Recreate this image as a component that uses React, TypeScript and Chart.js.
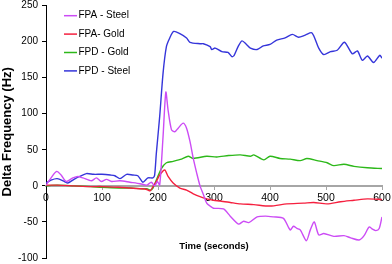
import React, { useEffect, useRef } from 'react';
import { Chart, registerables } from 'chart.js';

Chart.register(...registerables);

// ---- data ----
const seriesLabels = ['FPA - Steel', 'FPA- Gold', 'FPD - Gold', 'FPD - Steel'];
const seriesColors = ['#CC4CF5', '#F5203F', '#2DB81A', '#3535DA'];

const xTickValues = [0, 100, 200, 300, 400, 500, 600];
const yTickValues = [-100, -50, 0, 50, 100, 150, 200, 250];

const fpaSteelT = [0, 9, 19, 27, 36, 48, 57, 66, 81, 90, 99, 108, 117, 132, 150, 168, 180, 188, 194, 199, 203, 209, 214, 218, 224, 230, 236, 245, 251, 257, 263, 269, 275, 281, 287, 293, 299, 317, 329, 344, 353, 362, 377, 392, 406, 424, 436, 442, 448, 454, 465, 472, 479, 487, 496, 514, 532, 544, 559, 568, 577, 583, 589, 595, 600];
const fpaSteelV = [1, 11, 20, 15, 6, 11, 13, 11, 7, 11, 6, 9, 6, 7, 5, 3, 1, 5, 0, 6, 1, 68, 130, 105, 78, 75, 80, 87, 80, 62, 38, 18, 0, -12, -24, -28, -31, -32, -42, -53, -49, -51, -43, -42, -43, -45, -61, -56, -59, -61, -76, -61, -50, -68, -66, -70, -69, -72, -75, -69, -57, -60, -62, -59, -43];

const fpaGoldT = [0, 20, 50, 80, 100, 130, 150, 170, 180, 186, 191, 197, 203, 212, 218, 227, 239, 251, 263, 275, 287, 299, 311, 329, 347, 371, 400, 430, 460, 478, 502, 526, 550, 574, 600];
const fpaGoldV = [1, 1, 0, -1, -1, -2, -3, -4, -5, -7, -1, 6, 15, 22, 13, 4, -3, -6, -11, -15, -18, -20, -21, -23, -25, -26, -28, -25, -24, -23, -25, -22, -20, -18, -19];

const fpdGoldT = [0, 20, 50, 80, 100, 130, 150, 170, 180, 186, 191, 197, 206, 215, 227, 242, 254, 263, 287, 305, 326, 347, 365, 371, 389, 400, 418, 436, 454, 466, 484, 502, 514, 532, 550, 574, 600];
const fpdGoldV = [0, 1, 0, -1, -2, -3, -3, -4, -4, -6, -3, 8, 24, 32, 34, 37, 41, 38, 41, 40, 42, 43, 41, 43, 36, 41, 38, 37, 35, 38, 35, 32, 28, 30, 27, 25, 24];

const fpdSteelT = [0, 9, 20, 33, 39, 50, 60, 72, 85, 100, 115, 123, 132, 144, 155, 164, 173, 182, 191, 194, 197, 203, 209, 215, 221, 228, 239, 251, 257, 275, 281, 293, 296, 302, 314, 325, 332, 336, 343, 350, 358, 365, 377, 388, 400, 412, 427, 440, 451, 463, 475, 487, 496, 508, 520, 533, 547, 556, 565, 574, 585, 596, 600];
const fpdSteelV = [4, 8, 10, 6, 4, 9, 13, 17, 16, 16, 15, 14, 10, 16, 15, 14, 5, 11, 11, 15, 45, 96, 156, 193, 205, 214, 211, 205, 199, 197, 197, 193, 189, 191, 186, 185, 179, 181, 193, 201, 196, 191, 189, 194, 196, 202, 205, 210, 206, 209, 212, 191, 182, 186, 188, 199, 183, 187, 174, 180, 171, 181, 177];

const seriesTimes = [fpaSteelT, fpaGoldT, fpdGoldT, fpdSteelT];
const seriesValues = [fpaSteelV, fpaGoldV, fpdGoldV, fpdSteelV];

const FONT = '"Liberation Sans", Arial, sans-serif';

const insideLegend = {
  id: 'insideLegend',
  afterDatasetsDraw(chart: any) {
    const ctx = chart.ctx;
    const { left, top } = chart.chartArea;
    ctx.save();
    ctx.font = `10px ${FONT}`;
    ctx.textBaseline = 'middle';
    ctx.textAlign = 'left';
    chart.data.datasets.forEach((ds: any, i: number) => {
      const y = top + 10.2 + i * 18.4;
      ctx.strokeStyle = ds.borderColor;
      ctx.lineWidth = 1.5;
      ctx.beginPath();
      ctx.moveTo(left + 18, y);
      ctx.lineTo(left + 31, y);
      ctx.stroke();
      ctx.fillStyle = '#000';
      ctx.fillText(ds.label, left + 32.5, y);
    });
    ctx.restore();
  },
};

export default function App() {
  const ref = useRef<HTMLCanvasElement>(null);

  useEffect(() => {
    if (!ref.current) return;
    const datasets = seriesLabels.map((label, i) => ({
      label,
      data: seriesTimes[i].map((t, j) => ({ x: t, y: seriesValues[i][j] })),
      borderColor: seriesColors[i],
      backgroundColor: seriesColors[i],
      borderWidth: 1.4,
      pointRadius: 0,
      tension: 0.25,
      fill: false,
    }));

    const chart = new Chart(ref.current, {
      type: 'line',
      data: { datasets },
      plugins: [insideLegend],
      options: {
        animation: false,
        responsive: false,
        devicePixelRatio: 1,
        layout: { padding: { left: 0, top: 5.5, right: 10, bottom: 6 } },
        plugins: {
          legend: { display: false },
          tooltip: { enabled: false },
        },
        scales: {
          x: {
            type: 'linear',
            position: { y: 0 } as any,
            min: 0,
            max: 600,
            afterBuildTicks: (s: any) => {
              s.ticks = xTickValues.map((v) => ({ value: v }));
            },
            afterFit: (s: any) => {
              s.height = 66.7;
              s.paddingLeft = 0;
              s.paddingRight = 0;
            },
            grid: { drawOnChartArea: false, drawTicks: true, tickLength: 3, color: '#A6A6A6' },
            border: { display: true, color: '#A6A6A6', width: 2 },
            ticks: {
              color: '#000',
              padding: 3,
              maxRotation: 0,
              autoSkip: false,
              font: { family: FONT, size: 10.5 },
            },
            title: {
              display: true,
              text: 'Time (seconds)',
              color: '#000',
              padding: 0,
              font: { family: FONT, size: 9.5, weight: 'bold' },
            },
          },
          y: {
            type: 'linear',
            position: 'left',
            min: -100,
            max: 250,
            afterBuildTicks: (s: any) => {
              s.ticks = yTickValues.map((v) => ({ value: v }));
            },
            afterFit: (s: any) => {
              s.width = 46;
              s.paddingTop = 0;
              s.paddingBottom = 0;
            },
            grid: { drawOnChartArea: false, drawTicks: true, tickLength: 4, color: '#000' },
            border: { display: true, color: '#000', width: 1 },
            ticks: {
              color: '#000',
              padding: 4,
              autoSkip: false,
              font: { family: FONT, size: 10 },
            },
            title: {
              display: true,
              text: 'Delta Frequency (Hz)',
              color: '#000',
              padding: 0,
              font: { family: FONT, size: 13, weight: 'bold' },
            },
          },
        },
      } as any,
    });
    return () => chart.destroy();
  }, []);

  return (
    <div style={{ position: 'fixed', left: 0, top: 0, width: 392, height: 264, background: '#fff' }}>
      <canvas ref={ref} width={392} height={264} style={{ width: 392, height: 264, display: 'block' }} />
    </div>
  );
}
